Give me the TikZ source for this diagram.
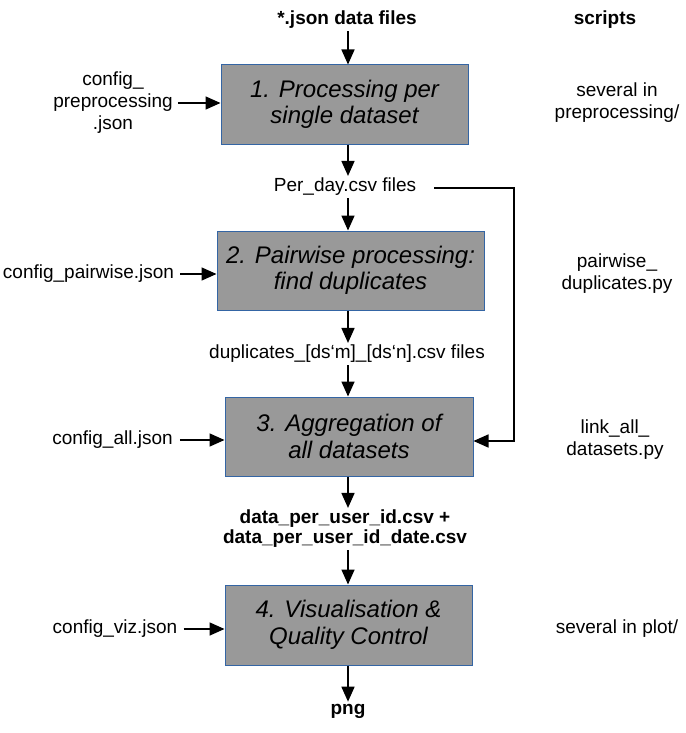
\documentclass[tikz,border=0pt]{standalone}
\usepackage{fontspec}
\setmainfont{Liberation Sans}
\usetikzlibrary{arrows.meta}
\definecolor{boxfill}{HTML}{999999}
\definecolor{boxline}{HTML}{3465A4}
\begin{document}
\begin{tikzpicture}[x=1pt,y=-1pt,
 proc/.style={draw=boxline, line width=1pt, fill=boxfill, minimum height=79pt, align=center, font=\fontsize{24}{26.5}\selectfont\itshape, inner sep=0pt},
 lbl/.style={font=\fontsize{19}{22}\selectfont, align=center, inner sep=2pt},
 blbl/.style={font=\fontsize{19}{20}\selectfont\bfseries, align=center, inner sep=2pt},
 arr/.style={-{Triangle[length=15pt,width=13pt]}, line width=1.6pt},
]
\useasboundingbox (0,0) rectangle (685,733);

% process boxes
\node[proc, minimum width=247pt] (p1) at (344.5,104.5) {1. Processing per\\single dataset};
\node[proc, minimum width=267pt] (p2) at (350.5,270.5) {2. Pairwise processing:\\find duplicates};
\node[proc, minimum width=248pt] (p3) at (349,436.5) {3. Aggregation of\\all datasets};
\node[proc, minimum width=247pt, minimum height=80pt] (p4) at (348.5,625) {4. Visualisation \&\\Quality Control};

% data labels along main flow
\node[blbl] (json) at (347,20) {*.json data files};
\node[lbl] (perday) at (345,187) {Per\_day.csv files};
\node[lbl] (dups) at (347,354) {duplicates\_[ds‘m]\_[ds‘n].csv files};
\node[blbl] (dpu) at (345,529) {data\_per\_user\_id.csv +\\data\_per\_user\_id\_date.csv};
\node[blbl] (png) at (348,711) {png};

% header
\node[blbl] (scripts) at (605,20) {scripts};

% configs
\node[lbl] (c1) at (113,103) {config\_\\preprocessing\\.json};
\node[lbl] (c2) at (88.5,274) {config\_pairwise.json};
\node[lbl] (c3) at (112.5,440) {config\_all.json};
\node[lbl] (c4) at (115,629) {config\_viz.json};

% scripts
\node[lbl] (s1) at (617,103) {several in\\preprocessing/};
\node[lbl] (s2) at (617,274) {pairwise\_\\duplicates.py};
\node[lbl] (s3) at (615,440) {link\_all\_\\datasets.py};
\node[lbl] (s4) at (617,629) {several in plot/};

% main flow arrows
\coordinate (mx) at (348,0);
\draw[arr] (mx |- json.south) -- (mx |- p1.north);
\draw[arr] (mx |- p1.south) -- (mx |- perday.north);
\draw[arr] (mx |- perday.south) -- (mx |- p2.north);
\draw[arr] (mx |- p2.south) -- (mx |- dups.north);
\draw[arr] (mx |- dups.south) -- (mx |- p3.north);
\draw[arr] (mx |- p3.south) -- (mx |- dpu.north);
\draw[arr] (mx |- dpu.south) -- (mx |- p4.north);
\draw[arr] (mx |- p4.south) -- (mx |- png.north);

% bypass
\coordinate (rt) at (514,441);
\draw[arr] ([xshift=16pt,yshift=-1pt]perday.east) -| (rt) -- (rt -| p3.east);

% config arrows
\draw[arr] ([xshift=3pt]c1.east) -- (c1.east -| p1.west);
\draw[arr] ([xshift=4pt]c2.east) -- (c2.east -| p2.west);
\draw[arr] ([xshift=5pt]c3.east) -- (c3.east -| p3.west);
\draw[arr] ([xshift=4pt]c4.east) -- (c4.east -| p4.west);
\end{tikzpicture}
\end{document}
